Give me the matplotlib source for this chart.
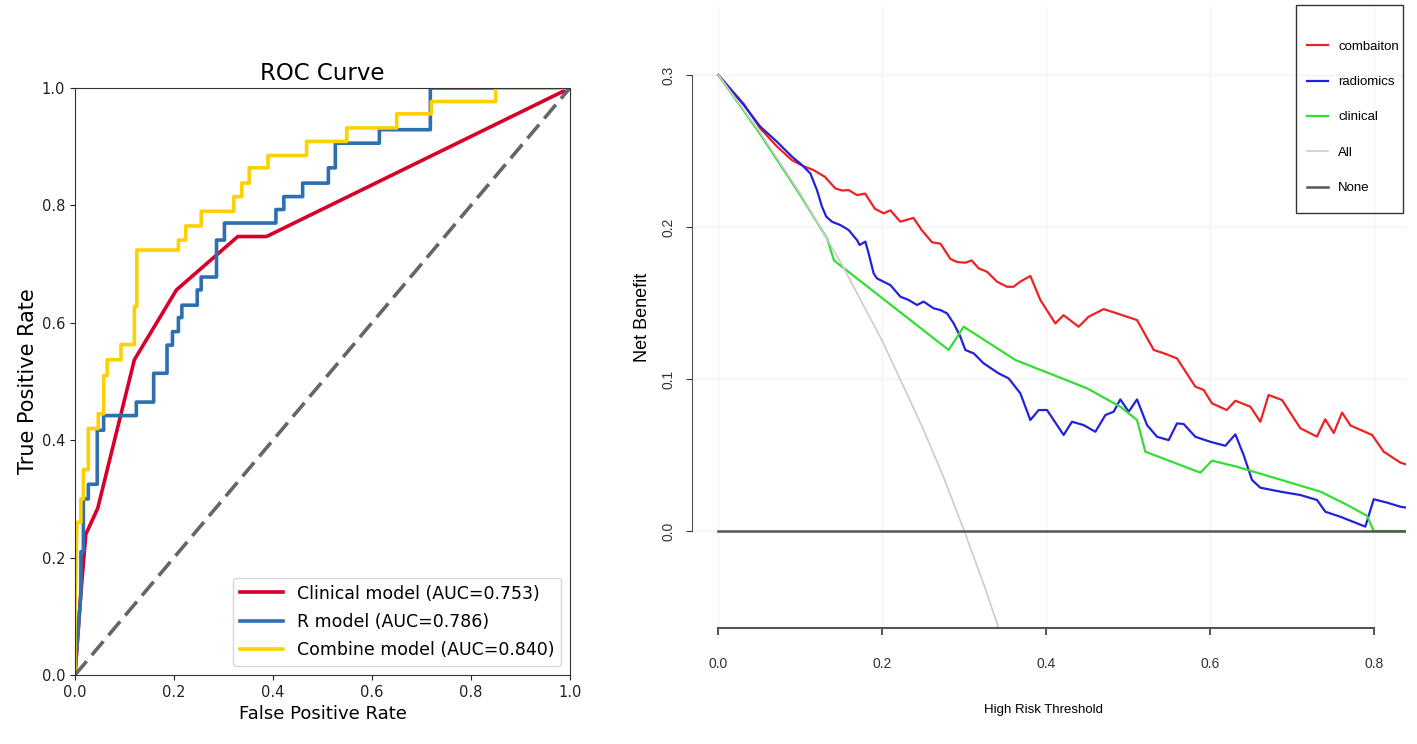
import matplotlib
matplotlib.use('Agg')
import matplotlib.pyplot as plt
from matplotlib.patches import Rectangle

# ROC curves (left panel)
clin_fpr = [0, 0.012, 0.022, 0.046, 0.12, 0.205, 0.329, 0.387, 1.0]
clin_tpr = [0, 0.14, 0.24, 0.284, 0.537, 0.656, 0.747, 0.747, 1.0]

r_fpr = [0, 0.012, 0.012, 0.017, 0.017, 0.027, 0.027, 0.045, 0.045, 0.058, 0.058,
         0.124, 0.124, 0.159, 0.159, 0.186, 0.186, 0.197, 0.197, 0.209, 0.209,
         0.216, 0.216, 0.247, 0.247, 0.255, 0.255, 0.286, 0.286, 0.302, 0.302,
         0.406, 0.406, 0.422, 0.422, 0.46, 0.46, 0.512, 0.512, 0.526, 0.526,
         0.615, 0.615, 0.718, 0.718, 1.0]
r_tpr = [0, 0.14, 0.21, 0.21, 0.30, 0.30, 0.325, 0.325, 0.417, 0.417, 0.442,
         0.442, 0.465, 0.465, 0.514, 0.514, 0.562, 0.562, 0.585, 0.585, 0.609,
         0.609, 0.63, 0.63, 0.656, 0.656, 0.678, 0.678, 0.741, 0.741, 0.77,
         0.77, 0.793, 0.793, 0.815, 0.815, 0.838, 0.838, 0.864, 0.864, 0.906,
         0.906, 0.929, 0.929, 1.0, 1.0]

comb_fpr = [0, 0, 0.004, 0.012, 0.012, 0.017, 0.017, 0.027, 0.027, 0.047, 0.047,
            0.058, 0.058, 0.065, 0.065, 0.093, 0.093, 0.12, 0.12, 0.125, 0.125,
            0.209, 0.209, 0.224, 0.224, 0.255, 0.255, 0.321, 0.321, 0.337, 0.337,
            0.352, 0.352, 0.39, 0.39, 0.468, 0.468, 0.549, 0.549, 0.65, 0.65,
            0.72, 0.72, 0.85, 0.85, 1.0]
comb_tpr = [0, 0.11, 0.26, 0.26, 0.30, 0.30, 0.35, 0.35, 0.42, 0.42, 0.445,
            0.445, 0.51, 0.51, 0.537, 0.537, 0.563, 0.563, 0.628, 0.628, 0.724,
            0.724, 0.741, 0.741, 0.765, 0.765, 0.79, 0.79, 0.815, 0.815, 0.838,
            0.838, 0.864, 0.864, 0.885, 0.885, 0.909, 0.909, 0.932, 0.932, 0.956,
            0.956, 0.977, 0.977, 1.0, 1.0]

roc_labels = ['Clinical model (AUC=0.753)', 'R model (AUC=0.786)',
              'Combine model (AUC=0.840)']

# decision curves (right panel)
comb_t = [0, 0.031, 0.051, 0.0715, 0.0898, 0.104, 0.116, 0.130, 0.1427, 0.151,
          0.159, 0.169, 0.179, 0.191, 0.2016, 0.2098, 0.222, 0.238, 0.248, 0.2606,
          0.271, 0.283, 0.291, 0.301, 0.309, 0.3175, 0.3276, 0.340, 0.352, 0.360,
          0.368, 0.3805, 0.3927, 0.411, 0.421, 0.4394, 0.4516, 0.4699, 0.486,
          0.5106, 0.531, 0.5434, 0.5593, 0.5817, 0.5919, 0.602, 0.620, 0.6305,
          0.6488, 0.661, 0.671, 0.6874, 0.7098, 0.730, 0.740, 0.7505, 0.7606,
          0.771, 0.7972, 0.8114, 0.8317, 0.838]
comb_nb = [0.300, 0.281, 0.265, 0.253, 0.244, 0.240, 0.2375, 0.233, 0.2254, 0.224,
           0.2243, 0.221, 0.222, 0.212, 0.209, 0.211, 0.2035, 0.206, 0.198, 0.190,
           0.189, 0.179, 0.177, 0.1765, 0.178, 0.1728, 0.1706, 0.164, 0.1607, 0.1607,
           0.164, 0.1678, 0.152, 0.1366, 0.142, 0.1344, 0.141, 0.146, 0.1432,
           0.1388, 0.1191, 0.1169, 0.1136, 0.095, 0.0928, 0.084, 0.0796, 0.0857,
           0.0818, 0.0719, 0.0895, 0.0862, 0.0676, 0.0621, 0.0735, 0.0645, 0.0779,
           0.0694, 0.0632, 0.0522, 0.0450, 0.0440]

rad_t = [0, 0.031, 0.0512, 0.0715, 0.0898, 0.102, 0.1122, 0.1203, 0.1264, 0.1317,
         0.1386, 0.1488, 0.159, 0.1691, 0.1724, 0.1793, 0.1833, 0.1894, 0.1935,
         0.2016, 0.2098, 0.222, 0.2321, 0.2423, 0.2504, 0.2626, 0.2707, 0.2789,
         0.287, 0.2951, 0.3012, 0.3114, 0.3236, 0.3419, 0.3541, 0.3683, 0.3805,
         0.3907, 0.4008, 0.4211, 0.4313, 0.4455, 0.4598, 0.472, 0.4821, 0.4902,
         0.5004, 0.5106, 0.5228, 0.535, 0.5492, 0.5593, 0.5675, 0.5817, 0.600,
         0.6183, 0.6305, 0.6406, 0.6508, 0.661, 0.6854, 0.7098, 0.7301, 0.7402,
         0.7585, 0.789, 0.7992, 0.8154, 0.8317, 0.838]
rad_nb = [0.300, 0.2803, 0.266, 0.2561, 0.2463, 0.2408, 0.2353, 0.2243, 0.2134,
          0.2068, 0.2035, 0.2013, 0.198, 0.1914, 0.1882, 0.1904, 0.1827, 0.1695,
          0.1662, 0.164, 0.1618, 0.1542, 0.152, 0.1487, 0.1509, 0.1465, 0.1454,
          0.1432, 0.1366, 0.1279, 0.1191, 0.1169, 0.1103, 0.1037, 0.1004, 0.0906,
          0.073, 0.0796, 0.0796, 0.0632, 0.0719, 0.0697, 0.0653, 0.0763, 0.0785,
          0.0866, 0.0785, 0.0866, 0.0697, 0.062, 0.0598, 0.0708, 0.0704, 0.062,
          0.0587, 0.0561, 0.0636, 0.050, 0.0336, 0.0285, 0.0259, 0.0237, 0.0204,
          0.0127, 0.0094, 0.0029, 0.0209, 0.0187, 0.016, 0.0155]

clin_t = [0, 0.05, 0.10, 0.133, 0.141, 0.2809, 0.2992, 0.3561, 0.3622, 0.4089,
          0.4496, 0.4902, 0.5106, 0.5207, 0.5878, 0.602, 0.6325, 0.6935, 0.7342,
          0.7667, 0.7911, 0.7992, 0.838]
clin_nb = [0.300, 0.262, 0.221, 0.192, 0.178, 0.1191, 0.1344, 0.1147, 0.1125,
           0.1026, 0.0939, 0.0818, 0.073, 0.0522, 0.0384, 0.0463, 0.0423, 0.0325,
           0.0259, 0.0172, 0.010, 0.0, 0.0]

all_t = [0, 0.05, 0.10, 0.15, 0.20, 0.25, 0.275, 0.30, 0.325, 0.35]
all_nb = [0.300, 0.263, 0.222, 0.176, 0.125, 0.067, 0.035, 0.0, -0.037, -0.077]

none_t = [0, 0.838]
none_nb = [0, 0]

dca_labels = ['combaiton', 'radiomics', 'clinical', 'All', 'None']

fig = plt.figure(figsize=(14.17, 7.44), dpi=100)

# left: ROC
ax1 = fig.add_axes([0.0529, 0.0927, 0.3493, 0.789])
ax1.plot(clin_fpr, clin_tpr, color='#d6002b', lw=2.6, label=roc_labels[0])
ax1.plot(r_fpr, r_tpr, color='#2e6fae', lw=2.6, label=roc_labels[1])
ax1.plot(comb_fpr, comb_tpr, color='#ffd000', lw=2.6, label=roc_labels[2])
ax1.plot([0, 1], [0, 1], color='#666666', lw=2.6, dashes=(5, 2.2))
ax1.set_xlim(0, 1)
ax1.set_ylim(0, 1)
ax1.set_xticks([0, 0.2, 0.4, 0.6, 0.8, 1.0])
ax1.set_yticks([0, 0.2, 0.4, 0.6, 0.8, 1.0])
ax1.tick_params(labelsize=10.5, colors='#222222')
for s in ax1.spines.values():
    s.set_color('#333333')
ax1.set_title('ROC Curve', fontsize=16.5, pad=6)
ax1.set_xlabel('False Positive Rate', fontsize=13, labelpad=4)
ax1.set_ylabel('True Positive Rate', fontsize=15, labelpad=3)
ax1.legend(loc='lower right', fontsize=12.5, handlelength=2.5, labelspacing=0.6)

# right: decision curve
nfont = ['Liberation Sans Narrow', 'Liberation Sans', 'DejaVu Sans']
ax2 = fig.add_axes([0.4884, 0.1555, 0.5035, 0.8356])
ax2.plot(comb_t, comb_nb, color='#ee2222', lw=1.6, label=dca_labels[0])
ax2.plot(rad_t, rad_nb, color='#2222dd', lw=1.6, label=dca_labels[1])
ax2.plot(clin_t, clin_nb, color='#33dd33', lw=1.6, label=dca_labels[2])
ax2.plot(all_t, all_nb, color='#cccccc', lw=1.2, label=dca_labels[3])
ax2.plot(none_t, none_nb, color='#555555', lw=1.8, label=dca_labels[4])
ax2.set_xlim(-0.032, 0.838)
ax2.set_ylim(-0.064, 0.345)
ax2.set_xticks([0, 0.2, 0.4, 0.6, 0.8])
ax2.set_yticks([0, 0.1, 0.2, 0.3])
ax2.set_xticklabels(['0.0', '0.2', '0.4', '0.6', '0.8'], family=nfont, fontsize=10)
ax2.set_yticklabels(['0.0', '0.1', '0.2', '0.3'], family=nfont, fontsize=10,
                    rotation=90, va='center')
ax2.grid(True, color='#f4f4f4', lw=1)
ax2.set_axisbelow(True)
for side in ['top', 'right']:
    ax2.spines[side].set_visible(False)
ax2.spines['left'].set_bounds(0, 0.3)
ax2.spines['bottom'].set_bounds(0, 0.8)
ax2.spines['left'].set_color('#555555')
ax2.spines['bottom'].set_color('#555555')
ax2.spines['bottom'].set_linewidth(1.5)
ax2.tick_params(axis='x', length=5, pad=16, colors='#333333', width=1.2)
ax2.tick_params(axis='y', length=4, pad=8, colors='#333333')
ax2.set_xlabel('High Risk Threshold', family=nfont, fontsize=9.5)
ax2.xaxis.set_label_coords(0.493, -0.122)
ax2.set_ylabel('Net Benefit', family=nfont, fontsize=13)
ax2.yaxis.set_label_coords(-0.058, 0.5)

leg = ax2.legend(loc='upper left', bbox_to_anchor=(1300 / 1417, 1 - 34 / 744),
                 bbox_transform=fig.transFigure, frameon=False,
                 prop={'family': nfont, 'size': 9.5}, labelspacing=1.75,
                 handlelength=1.6, handletextpad=0.8, borderpad=0)
fig.patches.append(Rectangle((1296 / 1417, 1 - 213 / 744), 107 / 1417, 208 / 744,
                             transform=fig.transFigure, fill=False,
                             edgecolor='#333333', lw=1))

fig.savefig('out.png', dpi=100)
